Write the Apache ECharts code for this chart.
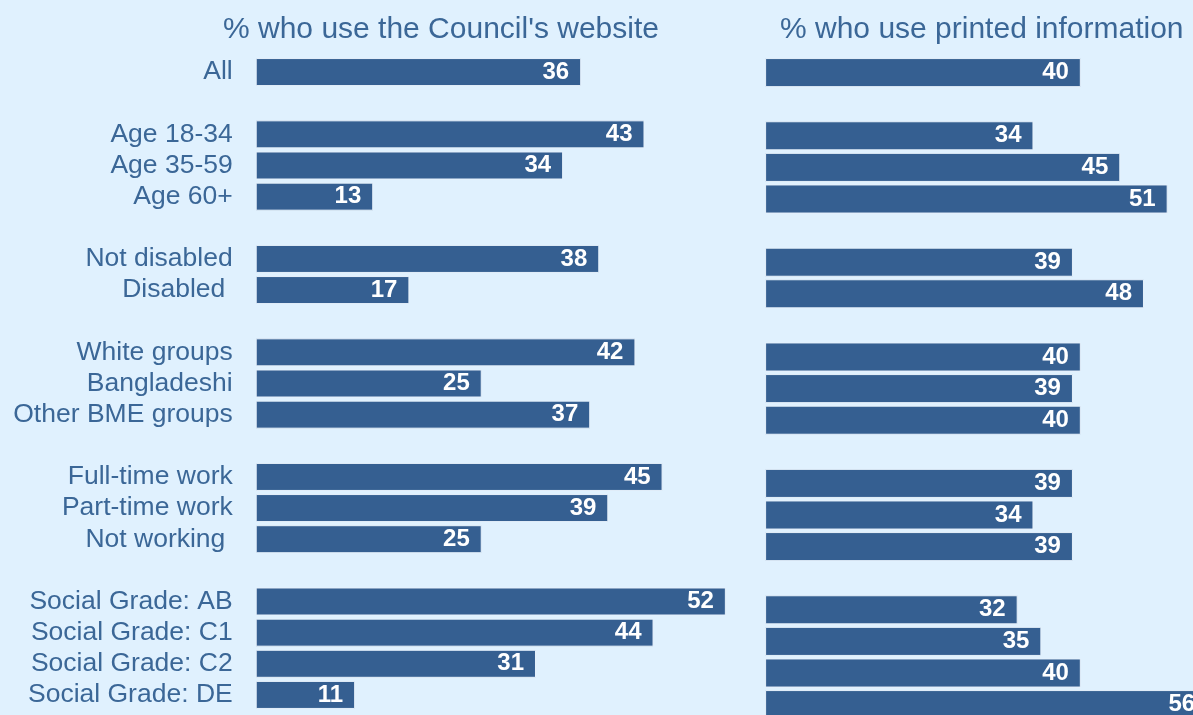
<!DOCTYPE html>
<html>
<head>
<meta charset="utf-8">
<script src="https://cdn.jsdelivr.net/npm/echarts@6/dist/echarts.min.js"></script>
<style>
  html, body { margin: 0; padding: 0; background: #e0f1fe; overflow: hidden; }
  /* the canvas runs past the window on the right and bottom, so the last bars are cut at the edge */
  #chart { width: 1250px; height: 730px; }
</style>
</head>
<body>
<div id="chart"></div>
<script>
// Row labels; empty strings are spacer rows between groups
const categories = [
  'All', '',
  'Age 18-34', 'Age 35-59', 'Age 60+', '',
  'Not disabled', 'Disabled ', '',
  'White groups', 'Bangladeshi', 'Other BME groups', '',
  'Full-time work', 'Part-time work', 'Not working ', '',
  'Social Grade: AB', 'Social Grade: C1', 'Social Grade: C2', 'Social Grade: DE'
];
// % who use the Council's website
const websiteValues = [
  36, null,
  43, 34, 13, null,
  38, 17, null,
  42, 25, 37, null,
  45, 39, 25, null,
  52, 44, 31, 11
];
// % who use printed information
const printedValues = [
  40, null,
  34, 45, 51, null,
  39, 48, null,
  40, 39, 40, null,
  39, 34, 39, null,
  32, 35, 40, 56
];
const panelTitles = ["% who use the Council's website", '% who use printed information'];

const barColor = '#355f91';
const textColor = '#3b6797';
const font = 'Liberation Sans, Arial, sans-serif';

const valueLabel = {
  show: true,
  position: 'insideRight',
  distance: 12,
  color: '#ffffff',
  fontWeight: 'bold',
  fontSize: 24,
  fontFamily: font
};
const barItem = { color: barColor, borderColor: '#e6f1fb', borderWidth: 1 };

const chart = echarts.init(document.getElementById('chart'), null, { renderer: 'canvas' });
chart.setOption({
  backgroundColor: '#e0f1fe',
  animation: false,
  title: [
    { text: panelTitles[0], left: 218, top: 10,
      textStyle: { color: textColor, fontSize: 30, fontWeight: 'normal', fontFamily: font } },
    { text: panelTitles[1], left: 775, top: 10,
      textStyle: { color: textColor, fontSize: 30, fontWeight: 'normal', fontFamily: font } }
  ],
  grid: [
    { left: 255.7, width: 542.5, top: 56.5, height: 654 },
    { left: 765.1, width: 473.6, top: 56.8, height: 663.6 }
  ],
  xAxis: [
    { gridIndex: 0, type: 'value', min: 0, max: 60, show: false },
    { gridIndex: 1, type: 'value', min: 0, max: 60, show: false }
  ],
  yAxis: [
    { gridIndex: 0, type: 'category', data: categories, inverse: true,
      axisLine: { show: false }, axisTick: { show: false }, splitLine: { show: false },
      axisLabel: { color: textColor, fontSize: 26.5, fontFamily: font, margin: 23, interval: 0 } },
    { gridIndex: 1, type: 'category', data: categories, inverse: true,
      axisLine: { show: false }, axisTick: { show: false }, splitLine: { show: false },
      axisLabel: { show: false } }
  ],
  series: [
    { type: 'bar', xAxisIndex: 0, yAxisIndex: 0, data: websiteValues,
      barCategoryGap: '10%', itemStyle: barItem, label: valueLabel },
    { type: 'bar', xAxisIndex: 1, yAxisIndex: 1, data: printedValues,
      barCategoryGap: '8%', itemStyle: barItem, label: valueLabel }
  ]
});
</script>
</body>
</html>
